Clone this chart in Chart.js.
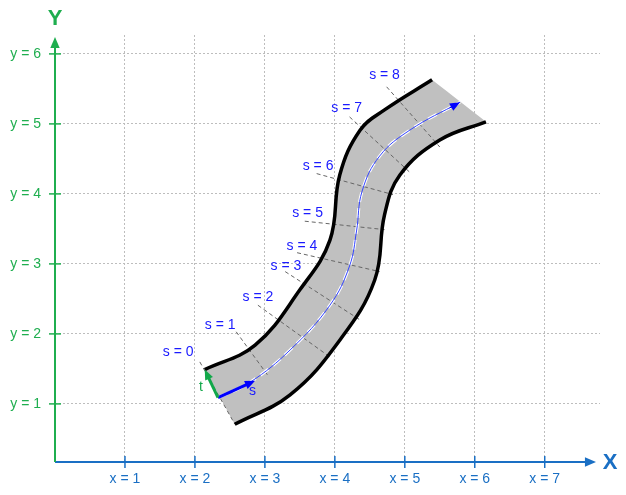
<!DOCTYPE html>
<html>
<head>
<meta charset="utf-8">
<script src="https://cdn.jsdelivr.net/npm/chart.js@4"></script>
<style>
  html, body { margin: 0; padding: 0; background: #fff; }
  #wrap { width: 626px; height: 495px; }
</style>
</head>
<body>
<div id="wrap"><canvas id="road"></canvas></div>
<script>
const xTicks = [1, 2, 3, 4, 5, 6, 7];
const yTicks = [1, 2, 3, 4, 5, 6];

const leftEdge = [[2.14, 1.49], [2.86, 1.84], [3.5, 2.63], [3.93, 3.34], [4.07, 4.27], [4.36, 4.91], [4.71, 5.2], [5.39, 5.63]];
const rightEdge = [[2.57, 0.71], [3.36, 1.13], [4.07, 1.91], [4.57, 2.77], [4.71, 3.7], [4.93, 4.27], [5.5, 4.77], [6.16, 5.03]];
const centerLine = [[2.33, 1.09], [2.79, 1.31], [3.36, 1.77], [3.93, 2.41], [4.21, 2.97], [4.31, 3.47], [4.39, 4.04], [4.64, 4.54], [5.07, 4.91], [5.79, 5.31]];

const sLabels = ['s = 0', 's = 1', 's = 2', 's = 3', 's = 4', 's = 5', 's = 6', 's = 7', 's = 8'];
const sLines = [
    [[2.07, 1.60], [2.57, 0.71]],
    [[2.59, 2.03], [3.04, 1.41]],
    [[2.90, 2.41], [3.93, 1.67]],
    [[3.29, 2.89], [4.36, 2.20]],
    [[3.46, 3.16], [4.64, 2.89]],
    [[3.57, 3.61], [4.71, 3.49]],
    [[3.74, 4.29], [4.83, 3.99]],
    [[4.21, 5.10], [5.07, 4.31]],
    [[4.74, 5.53], [5.50, 4.67]],
];
const sLabelPos = [[1.76, 1.74], [2.36, 2.13], [2.90, 2.53], [3.30, 2.97], [3.53, 3.26], [3.61, 3.73], [3.76, 4.39], [4.17, 5.23], [4.71, 5.69]];

// frame arrows at the start of the road
const sArrow = [[2.33, 1.09], [2.86, 1.33]];
const tArrow = [[2.33, 1.09], [2.14, 1.49]];

const xBlue = '#1a6fc4';
const yGreen = '#1fae4f';
const textBlue = '#1a1aff';

const pts = (arr) => arr.map(([x, y]) => ({ x, y }));

// road outline: left edge, then right edge reversed (corners doubled to keep them sharp)
const outline = [leftEdge[0], ...leftEdge, leftEdge[leftEdge.length - 1],
    rightEdge[rightEdge.length - 1], ...rightEdge.slice().reverse(), rightEdge[0]];

function arrow(ctx, x1, y1, x2, y2, color, width, head) {
    const a = Math.atan2(y2 - y1, x2 - x1);
    ctx.save();
    ctx.strokeStyle = color;
    ctx.fillStyle = color;
    ctx.lineWidth = width;
    ctx.beginPath();
    ctx.moveTo(x1, y1);
    ctx.lineTo(x2 - Math.cos(a) * head * 0.8, y2 - Math.sin(a) * head * 0.8);
    ctx.stroke();
    ctx.beginPath();
    ctx.moveTo(x2, y2);
    ctx.lineTo(x2 - head * Math.cos(a - 0.4), y2 - head * Math.sin(a - 0.4));
    ctx.lineTo(x2 - head * Math.cos(a + 0.4), y2 - head * Math.sin(a + 0.4));
    ctx.closePath();
    ctx.fill();
    ctx.restore();
}

const overlay = {
    id: 'overlay',
    afterDatasetsDraw(chart) {
        const { ctx, chartArea: ca } = chart;
        const sx = chart.scales.x;
        const sy = chart.scales.y;
        const px = (p) => [sx.getPixelForValue(p[0]), sy.getPixelForValue(p[1])];

        // s labels
        ctx.save();
        ctx.font = '14px Arial, "Liberation Sans", sans-serif';
        ctx.fillStyle = textBlue;
        ctx.textAlign = 'center';
        ctx.textBaseline = 'middle';
        sLabels.forEach((t, i) => {
            const [x, y] = px(sLabelPos[i]);
            ctx.fillText(t, x, y);
        });
        ctx.restore();

        // centerline end arrow head
        const n = centerLine.length;
        const [ex1, ey1] = px(centerLine[n - 2]);
        const [ex2, ey2] = px(centerLine[n - 1]);
        const a = Math.atan2(ey2 - ey1, ex2 - ex1);
        arrow(ctx, ex2 - Math.cos(a) * 12, ey2 - Math.sin(a) * 12, ex2, ey2, '#0000ff', 1, 11);

        // frame arrows
        let [a1, b1] = px(sArrow[0]);
        let [a2, b2] = px(sArrow[1]);
        arrow(ctx, a1, b1, a2, b2, '#0000ff', 3, 11);
        [a2, b2] = px(tArrow[1]);
        arrow(ctx, a1, b1, a2, b2, '#12a84a', 3, 11);
        ctx.save();
        ctx.font = '14px Arial, "Liberation Sans", sans-serif';
        ctx.textBaseline = 'middle';
        ctx.fillStyle = textBlue;
        ctx.fillText('s', 249, 391);
        ctx.fillStyle = '#12a84a';
        ctx.fillText('t', 199, 387);
        ctx.restore();

        // axes with arrows
        const x0 = sx.getPixelForValue(0);
        const y0 = ca.bottom;
        arrow(ctx, x0, y0, ca.right - 4, y0, xBlue, 2, 12);
        arrow(ctx, x0, y0, x0, ca.top + 2, yGreen, 2, 12);
        ctx.save();
        ctx.lineWidth = 1.5;
        ctx.strokeStyle = xBlue;
        xTicks.forEach((v) => {
            const x = sx.getPixelForValue(v);
            ctx.beginPath(); ctx.moveTo(x, y0 - 6); ctx.lineTo(x, y0 + 6); ctx.stroke();
        });
        ctx.strokeStyle = yGreen;
        yTicks.forEach((v) => {
            const y = sy.getPixelForValue(v);
            ctx.beginPath(); ctx.moveTo(x0 - 6, y); ctx.lineTo(x0 + 6, y); ctx.stroke();
        });
        ctx.font = 'bold 22px Arial, "Liberation Sans", sans-serif';
        ctx.textAlign = 'center';
        ctx.textBaseline = 'middle';
        ctx.fillStyle = xBlue;
        ctx.fillText('X', ca.right + 10, y0 + 1);
        ctx.fillStyle = yGreen;
        ctx.fillText('Y', x0, 19);
        ctx.restore();
    },
};

// Chart.js paints the first dataset last, so list the top layers first
const datasets = [
    { data: pts(centerLine), showLine: true, borderColor: '#3344ff', borderWidth: 1, pointRadius: 0, tension: 0.4, fill: false },
    { data: pts(centerLine), showLine: true, borderColor: '#ffffff', borderWidth: 3, borderDash: [10, 6], pointRadius: 0, tension: 0.4, fill: false },
    { data: pts(leftEdge), showLine: true, borderColor: '#000', borderWidth: 3.5, pointRadius: 0, tension: 0.4, fill: false },
    { data: pts(rightEdge), showLine: true, borderColor: '#000', borderWidth: 3.5, pointRadius: 0, tension: 0.4, fill: false },
    ...sLines.map((l) => ({ data: pts(l), showLine: true, borderColor: '#666', borderWidth: 1, borderDash: [4, 3], pointRadius: 0, fill: false })),
    { data: pts(outline), showLine: true, fill: 'shape', backgroundColor: '#c0c0c0', borderWidth: 0, pointRadius: 0, tension: 0.4 },
];

new Chart(document.getElementById('road'), {
    type: 'scatter',
    data: { datasets },
    options: {
        responsive: true,
        maintainAspectRatio: false,
        animation: false,
        layout: { padding: { top: 35, right: 26, left: 0, bottom: 0 } },
        plugins: { legend: { display: false }, tooltip: { enabled: false } },
        scales: {
            x: {
                type: 'linear',
                min: 0,
                max: 7.79,
                afterBuildTicks: (s) => { s.ticks = xTicks.map((v) => ({ value: v })); },
                afterFit: (s) => { s.height = 33; },
                border: { display: false, dash: [2, 2] },
                grid: { color: '#bdbdbd', drawTicks: false },
                ticks: {
                    color: xBlue,
                    padding: 9,
                    maxRotation: 0,
                    font: { size: 14, family: 'Arial, "Liberation Sans", sans-serif' },
                    callback: (v) => 'x = ' + v,
                },
            },
            y: {
                type: 'linear',
                min: 0.17,
                max: 6.27,
                afterBuildTicks: (s) => { s.ticks = yTicks.map((v) => ({ value: v })); },
                afterFit: (s) => { s.width = 55; },
                border: { display: false, dash: [2, 2] },
                grid: { color: '#bdbdbd', drawTicks: false },
                ticks: {
                    color: yGreen,
                    padding: 14,
                    font: { size: 14, family: 'Arial, "Liberation Sans", sans-serif' },
                    callback: (v) => 'y = ' + v,
                },
            },
        },
    },
    plugins: [overlay],
});
</script>
</body>
</html>
